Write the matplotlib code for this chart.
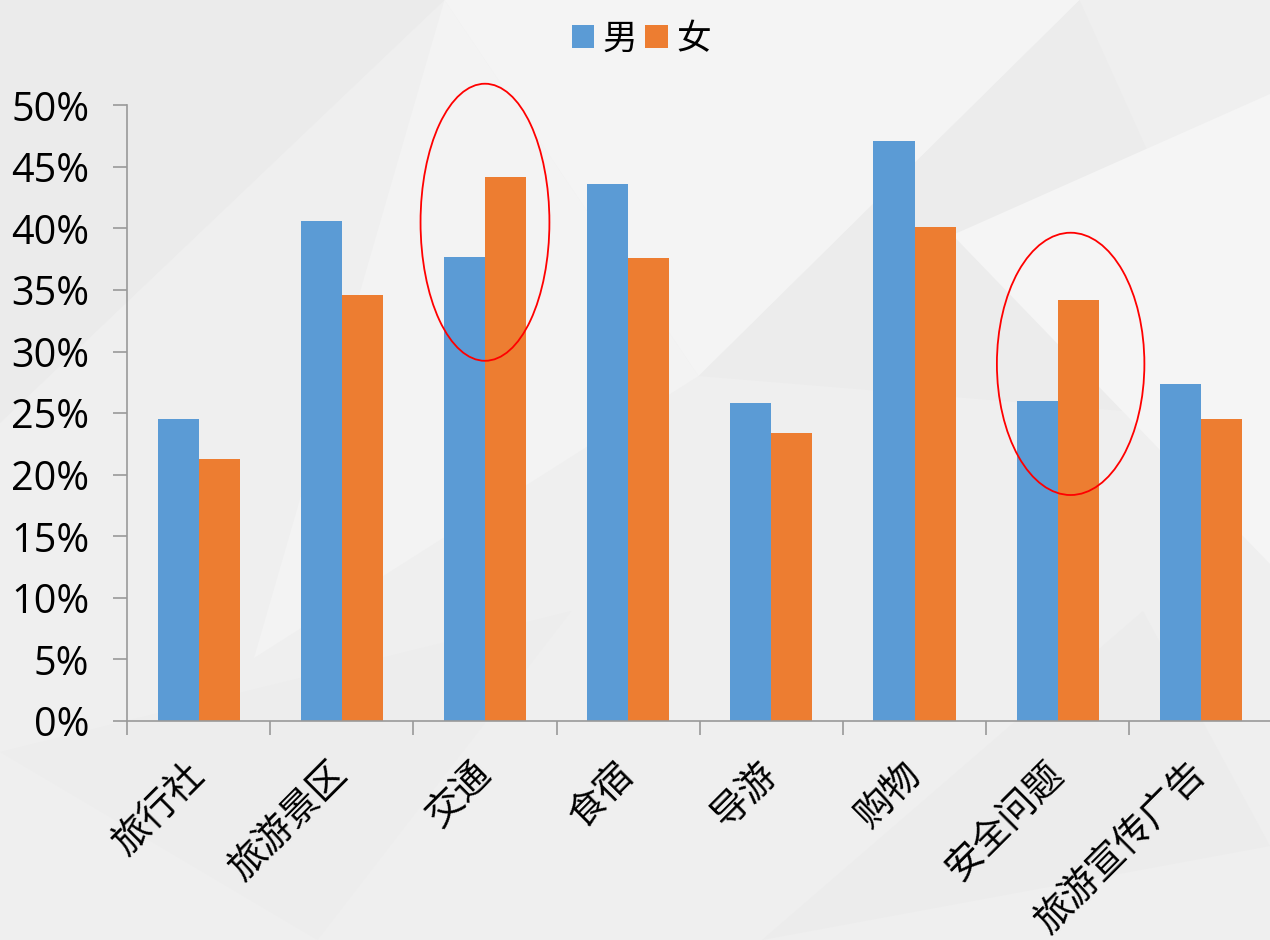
import matplotlib
matplotlib.use("Agg")
import matplotlib.pyplot as plt
import numpy as np
from matplotlib.patches import Ellipse, Polygon
from matplotlib.ticker import PercentFormatter, FixedLocator

plt.rcParams['font.family'] = ['Noto Sans CJK SC', 'DejaVu Sans']

categories = ['旅行社', '旅游景区', '交通', '食宿', '导游', '购物', '安全问题', '旅游宣传广告']
male = [24.5, 40.6, 37.7, 43.6, 25.8, 47.1, 26.0, 27.4]
female = [21.3, 34.6, 44.2, 37.6, 23.4, 40.1, 34.2, 24.5]

blue = '#5B9BD5'
orange = '#ED7D31'

fig = plt.figure(figsize=(12.7, 9.4), dpi=100)
fig.patch.set_facecolor('#efefef')

# faint triangular background
bg = fig.add_axes([0, 0, 1, 1], zorder=-10)
bg.set_xlim(0, 1)
bg.set_ylim(0, 1)
bg.axis('off')
tris = [
    ([0, 1], [0.35, 1], [0, 0.55], '#ebebeb'),
    ([0.35, 1], [0.55, 0.6], [0.2, 0.3], '#f3f3f3'),
    ([0.55, 0.6], [0.85, 1], [1, 0.55], '#ececec'),
    ([0, 0.2], [0.25, 0], [0.45, 0.35], '#ededed'),
    ([0.6, 0.0], [0.9, 0.35], [1, 0.1], '#ececec'),
    ([0.35, 1], [0.85, 1], [0.55, 0.6], '#f4f4f4'),
    ([0.75, 0.75], [1, 0.9], [1, 0.4], '#f5f5f5'),
]
for a, b, c, col in tris:
    bg.add_patch(Polygon([a, b, c], closed=True, facecolor=col, edgecolor='none'))

ax = fig.add_axes([0.1, 0.233, 0.902, 0.655])
ax.patch.set_alpha(0)

x = np.arange(len(categories))
w = 0.287
ax.bar(x - w / 2, male, w, color=blue, label='男')
ax.bar(x + w / 2, female, w, color=orange, label='女')

ax.set_xlim(-0.5, len(categories) - 0.5)
ax.set_ylim(0, 50)
ax.yaxis.set_major_locator(FixedLocator(np.arange(0, 51, 5)))
ax.yaxis.set_major_formatter(PercentFormatter(decimals=0))

ax.set_xticks(x)
ax.set_xticklabels(categories, rotation=45, ha='right', va='center', rotation_mode='anchor', fontsize=27)
ax.tick_params(axis='x', length=0, pad=34)
ax.set_xticks(np.arange(-0.5, len(categories), 1), minor=True)
ax.tick_params(axis='x', which='minor', length=10, color='#999999', width=1.2)
ax.tick_params(axis='y', length=10, color='#999999', width=1.2, pad=17)
for lab in ax.get_yticklabels():
    lab.set_fontfamily(['Open Sans', 'DejaVu Sans'])
    lab.set_fontsize(28.5)

for s in ['top', 'right']:
    ax.spines[s].set_visible(False)
ax.spines['left'].set_color('#999999')
ax.spines['bottom'].set_color('#999999')
ax.spines['left'].set_linewidth(1.2)
ax.spines['bottom'].set_linewidth(1.2)

ax.add_patch(Ellipse((2.0, 40.5), 0.9, 22.5, fill=False, edgecolor='red', linewidth=1.3, clip_on=False))
ax.add_patch(Ellipse((6.09, 29.0), 1.03, 21.3, fill=False, edgecolor='red', linewidth=1.3, clip_on=False))

fig.legend(loc='upper center', bbox_to_anchor=(0.505, 1.01), ncol=2, frameon=False,
           fontsize=25, handlelength=0.65, handleheight=0.65, handletextpad=0.25, columnspacing=0.22)

fig.savefig('out.png', dpi=100, facecolor=fig.get_facecolor())
